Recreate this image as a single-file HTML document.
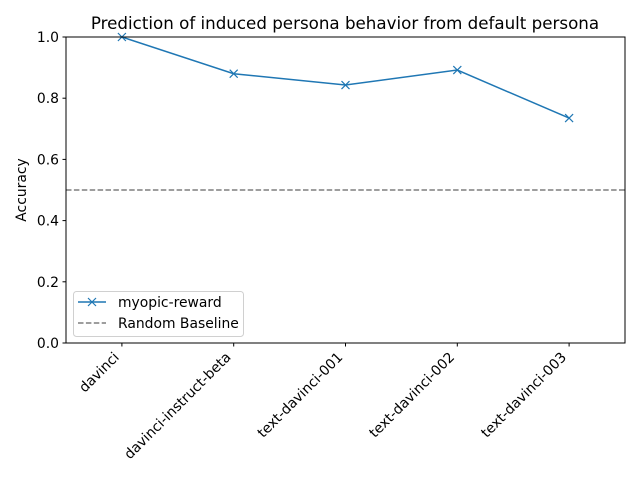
<!DOCTYPE html>
<html><head><meta charset="utf-8"><style>
body{margin:0;background:#fff}
svg{font-family:"DejaVu Sans","Liberation Sans",sans-serif;display:block}
</style></head><body>
<svg id="chart" width="640" height="480">
<text x="345" y="29" text-anchor="middle" font-size="16.7">Prediction of induced persona behavior from default persona</text>
<text transform="translate(26,190) rotate(-90)" text-anchor="middle" font-size="13.9">Accuracy</text>
<g id="plot"></g>
</svg>
<script>
const categories=["davinci","davinci-instruct-beta","text-davinci-001","text-davinci-002","text-davinci-003"];
const accuracy=[1.0,0.88,0.843,0.892,0.735];
const baseline=[0.5];
const yTicks=[0,0.2,0.4,0.6,0.8,1.0];
const L=66,R=625,T=37,B=343;
const xs=i=>L+(i+0.5)*(R-L)/categories.length;
const ys=v=>B-v*(B-T);
const NS="http://www.w3.org/2000/svg";
const g=document.getElementById('plot');
function mk(t,a,p){const e=document.createElementNS(NS,t);for(const k in a)e.setAttribute(k,a[k]);(p||g).appendChild(e);return e;}
const bl=mk('line',{x1:L,x2:R,y1:ys(baseline[0]),y2:ys(baseline[0]),stroke:'#7f7f7f','stroke-width':1.5,'stroke-dasharray':'5.5,2.4'});


const pts=accuracy.map((v,i)=>xs(i)+','+ys(v)).join(' ');
const pl=mk('polyline',{points:pts,fill:'none',stroke:'#1f77b4','stroke-width':1.5});


accuracy.forEach((v,i)=>{
  const x=xs(i),y=ys(v);
  const m=mk('path',{d:`M${x-4},${y-4}L${x+4},${y+4}M${x-4},${y+4}L${x+4},${y-4}`,stroke:'#1f77b4','stroke-width':1.2});
  
  
});
const fr=mk('rect',{x:L,y:T,width:R-L,height:B-T,fill:'none',stroke:'#000','stroke-width':1});


yTicks.forEach(v=>{
  const y=ys(v);
  const tk=mk('line',{x1:L-3.5,x2:L,y1:y,y2:y,stroke:'#000'});
  
  
  const t=mk('text',{x:L-7,y:y+5,'text-anchor':'end','font-size':13.9});
  t.textContent=v.toFixed(1);
  
  
});
categories.forEach((c,i)=>{
  const x=xs(i);
  const tk=mk('line',{x1:x,x2:x,y1:B,y2:B+3.5,stroke:'#000'});
  
  
  const t=mk('text',{transform:`translate(${x-2},${B+15}) rotate(-45)`,'text-anchor':'end','font-size':13.9});
  t.textContent=c;
  
  
});
const lg=mk('g',{});


mk('rect',{x:73.5,y:291.5,width:170,height:45,rx:3,fill:'#fff','fill-opacity':0.8,stroke:'#d0d0d0'},lg);
mk('line',{x1:78,x2:106,y1:302,y2:302,stroke:'#1f77b4','stroke-width':1.5},lg);
mk('path',{d:'M88,298L96,306M88,306L96,298',stroke:'#1f77b4','stroke-width':1.2},lg);
const t1=mk('text',{x:118,y:307,'font-size':13.9},lg);t1.textContent='myopic-reward';


mk('line',{x1:78,x2:106,y1:323,y2:323,stroke:'#7f7f7f','stroke-width':1.5,'stroke-dasharray':'5.5,2.4'},lg);
const t2=mk('text',{x:118,y:328,'font-size':13.9},lg);t2.textContent='Random Baseline';


</script>
</body></html>
